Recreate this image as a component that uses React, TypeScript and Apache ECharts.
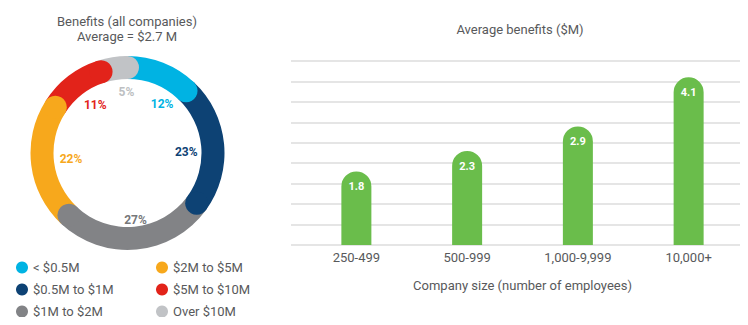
import React, { useEffect, useRef } from "react";
import * as echarts from "echarts";

const donutNames = ["< $0.5M", "$0.5M to $1M", "$1M to $2M", "$2M to $5M", "$5M to $10M", "Over $10M"];
const donutValues = [12, 23, 27, 22, 11, 5];
const donutColors = ["#00b3e3", "#0d4274", "#828386", "#f7a81c", "#e2231a", "#c1c3c6"];
const donutLabelColors = ["#00b3e3", "#0d4274", "#76777a", "#f7a81c", "#e2231a", "#bdbfc2"];
// small pixel nudges of the percentage labels, as placed in the original
const labelNudges = [[11, 11], [-5, 5], [2, 3], [7, -2], [7, 3], [9, 2]];

const sizeCategories = ["250-499", "500-999", "1,000-9,999", "10,000+"];
const avgBenefits = [1.8, 2.3, 2.9, 4.1];

const FONT = "Roboto, 'Liberation Sans', Arial, sans-serif";
const TEXT = "#58595b";
const CENTER = [127.5, 153];
const R_IN = 74;
const R_OUT = 97;

export default function App() {
  const ref = useRef<HTMLDivElement>(null);
  useEffect(() => {
    if (!ref.current) return;
    const chart = echarts.init(ref.current, null, { renderer: "svg" });

    const total = donutValues.reduce((a, b) => a + b, 0);
    const cum: number[] = [];
    donutValues.reduce((acc, v) => {
      const n = acc + v;
      cum.push(n);
      return n;
    }, 0);
    const ringMid = (R_IN + R_OUT) / 2;
    const capR = (R_OUT - R_IN) / 2;

    const option: any = {
      animation: false,
      textStyle: { fontFamily: FONT },
      title: [
        {
          text: "Benefits (all companies)\nAverage = $2.7 M",
          left: 122,
          top: 9,
          textAlign: "center",
          textStyle: { fontSize: 13, fontWeight: "normal", color: TEXT, lineHeight: 15, fontFamily: FONT },
        },
        {
          text: "Average benefits ($M)",
          left: 515,
          top: 18,
          textAlign: "center",
          textStyle: { fontSize: 13, fontWeight: "normal", color: TEXT, fontFamily: FONT },
        },
      ],
      legend: [0, 1].map((k) => ({
        data: donutNames.slice(k * 3, k * 3 + 3),
        orient: "vertical",
        left: k === 0 ? 16 : 156,
        top: 261,
        padding: 0,
        icon: "circle",
        itemWidth: 12,
        itemHeight: 12,
        itemGap: 9,
        selectedMode: false,
        textStyle: { fontSize: 13, color: TEXT, fontFamily: FONT },
      })),
      polar: { center: CENTER, radius: R_OUT },
      angleAxis: { type: "value", min: 0, max: total, startAngle: 90, clockwise: true, show: false },
      radiusAxis: { type: "value", min: 0, max: R_OUT, show: false },
      grid: [
        { left: 291, right: 0, top: 61, bottom: 80 },
        { left: 301, right: 4, top: 61, bottom: 80 },
      ],
      xAxis: [
        { type: "category", gridIndex: 0, data: sizeCategories, show: false },
        {
          type: "category",
          gridIndex: 1,
          data: sizeCategories,
          axisLine: { show: false },
          axisTick: { show: false },
          axisLabel: { color: TEXT, fontSize: 13, margin: 6, fontFamily: FONT },
          name: "Company size (number of employees)",
          nameLocation: "middle",
          nameGap: 34,
          nameTextStyle: { color: TEXT, fontSize: 13, fontFamily: FONT },
        },
      ],
      yAxis: [
        {
          type: "value",
          gridIndex: 0,
          min: 0,
          max: 4.5,
          interval: 0.5,
          axisLine: { show: false },
          axisTick: { show: false },
          axisLabel: { show: false },
          splitLine: { lineStyle: { color: "#dcdcdc", width: 1.5 } },
        },
        {
          type: "value",
          gridIndex: 1,
          min: 0,
          max: 4.5,
          interval: 0.5,
          show: false,
          splitLine: { show: false },
        },
      ],
      series: [
        // ring segments
        ...donutNames.map((name, i) => ({
          type: "pie",
          name,
          center: CENTER,
          radius: [R_IN, R_OUT],
          startAngle: 90,
          silent: true,
          z: 2,
          color: [donutColors[i]],
          label: { show: false },
          labelLine: { show: false },
          itemStyle: { color: donutColors[i], borderWidth: 0 },
          data: donutValues.map((v, j) => ({
            value: v,
            itemStyle: { color: j === i ? donutColors[j] : "rgba(0,0,0,0)" },
          })),
        })),
        // rounded caps at each segment's clockwise end
        {
          type: "custom",
          coordinateSystem: "polar",
          silent: true,
          z: 3,
          data: cum.map((c, i) => [c, i]),
          renderItem: (params: any, api: any) => {
            const i = api.value(1);
            const p = api.coord([ringMid, api.value(0)]);
            return {
              type: "circle",
              shape: { cx: p[0], cy: p[1], r: capR },
              style: { fill: donutColors[i] },
            };
          },
        },
        // percentage labels
        {
          type: "pie",
          center: CENTER,
          radius: [48, 74],
          startAngle: 90,
          silent: true,
          z: 4,
          itemStyle: { color: "rgba(0,0,0,0)", borderWidth: 0 },
          labelLine: { show: false },
          label: {
            show: true,
            position: "inside",
            formatter: "{c}%",
            fontSize: 12,
            fontWeight: "bold",
            fontFamily: FONT,
          },
          labelLayout: (p: any) => ({ dx: labelNudges[p.dataIndex][0], dy: labelNudges[p.dataIndex][1] }),
          data: donutValues.map((v, i) => ({ value: v, label: { color: donutLabelColors[i] } })),
        },
        {
          type: "bar",
          xAxisIndex: 1,
          yAxisIndex: 1,
          data: avgBenefits,
          barWidth: 30,
          itemStyle: { color: "#6abd4b", borderRadius: [15, 15, 0, 0] },
          label: {
            show: true,
            position: "insideTop",
            distance: 10,
            color: "#ffffff",
            fontSize: 11,
            fontWeight: "bold",
            fontFamily: FONT,
          },
          silent: true,
        },
      ],
    };
    chart.setOption(option);
    return () => chart.dispose();
  }, []);
  return <div ref={ref} style={{ width: 748, height: 325, margin: -8 }} />;
}
